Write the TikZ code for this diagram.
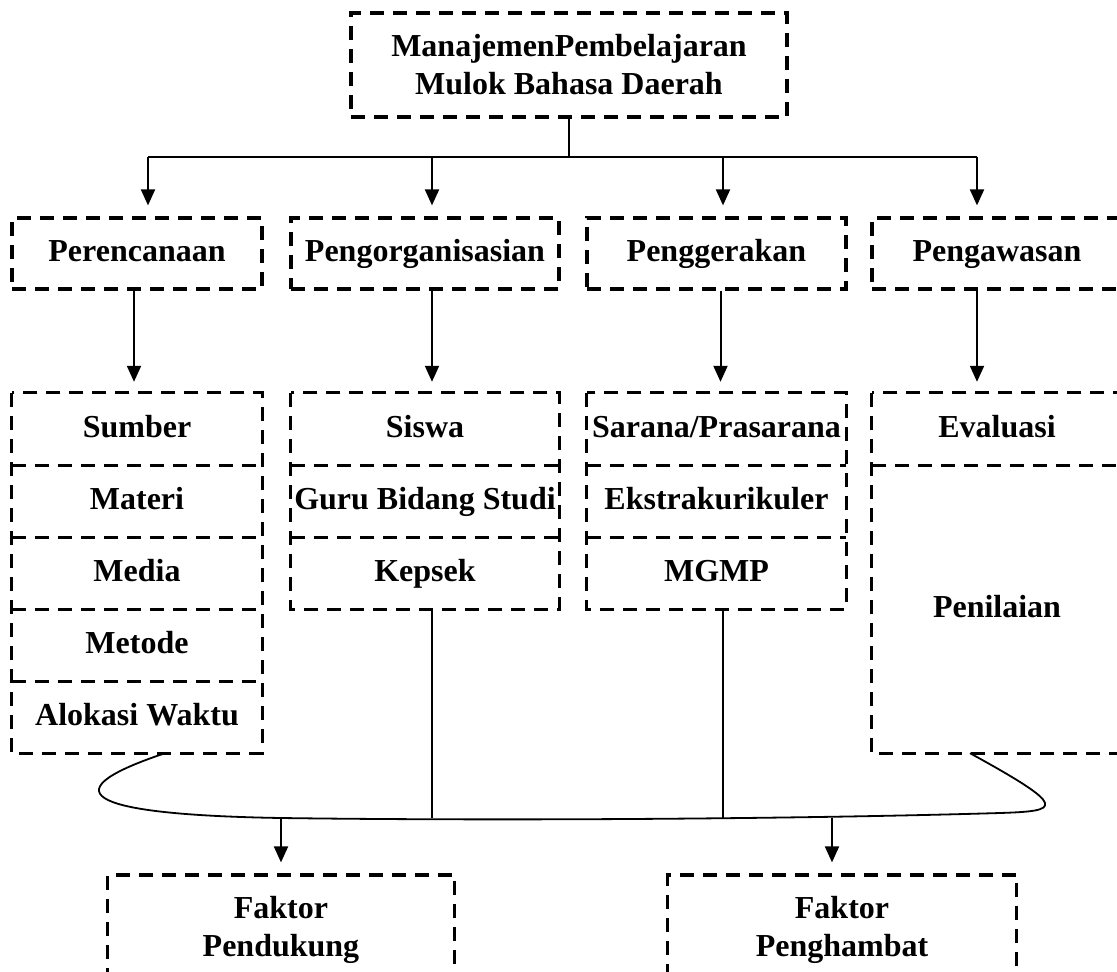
\documentclass[tikz,border=0pt]{standalone}
\usepackage{fontspec}
\setmainfont{Liberation Serif}
\usetikzlibrary{arrows.meta, positioning, calc}

\begin{document}
\begin{tikzpicture}[
		x=1pt, y=-1pt,
		every node/.style={font=\fontsize{32}{38}\selectfont\bfseries, align=center, inner sep=0pt},
		box/.style={draw, line width=3.2pt, dash pattern=on 14pt off 9pt},
		stage/.style={box, minimum height=71pt, text height=23pt, text depth=7pt},
		cell/.style={minimum height=72pt, text height=23pt, text depth=7pt},
		dashline/.style={line width=3.2pt, dash pattern=on 14pt off 9pt},
		link/.style={line width=2pt},
		>={Triangle[length=16pt, width=14pt]},
		arrow/.style={link, ->, shorten >=11pt}
		]
		
		\useasboundingbox (0,0) rectangle (1117,972);
		\clip (0,0) rectangle (1117,972);
		
		% --- Top Node ---
		\node[box, minimum width=436pt, minimum height=104pt] (manajemen) at (569,65) {ManajemenPembelajaran\\Mulok Bahasa Daerah};
		
		% --- Management Functions ---
		\node[stage, minimum width=250pt] (perencanaan) at (137,253.5) {Perencanaan};
		\node[stage, minimum width=268pt] (pengorganisasian) at (425,253.5) {Pengorganisasian};
		\node[stage, minimum width=259pt] (penggerakan) at (716.5,253.5) {Penggerakan};
		\node[stage, minimum width=250pt] (pengawasan) at (997,253.5) {Pengawasan};
		
		% --- Item Columns ---
		\node[cell, minimum width=250pt] (sumber) at (137,429) {Sumber};
		\node[cell, minimum width=250pt] (materi) at (137,501) {Materi};
		\node[cell, minimum width=250pt] (media) at (137,573) {Media};
		\node[cell, minimum width=250pt] (metode) at (137,645) {Metode};
		\node[cell, minimum width=250pt] (alokasi) at (137,717) {Alokasi Waktu};
		
		\node[cell, minimum width=268pt] (siswa) at (425,429) {Siswa};
		\node[cell, minimum width=268pt] (guru) at (425,501) {Guru Bidang Studi};
		\node[cell, minimum width=268pt] (kepsek) at (425,573) {Kepsek};
		
		\node[cell, minimum width=259pt] (sarana) at (716.5,429) {Sarana/Prasarana};
		\node[cell, minimum width=259pt] (ekstra) at (716.5,501) {Ekstrakurikuler};
		\node[cell, minimum width=259pt] (mgmp) at (716.5,573) {MGMP};
		
		\node[cell, minimum width=250pt] (evaluasi) at (997,429) {Evaluasi};
		\node[cell, minimum width=250pt, minimum height=288pt] (penilaian) at (997,609) {Penilaian};
		
		% dashed outlines and separators of the columns
		\draw[dashline] (sumber.north west) rectangle (alokasi.south east);
		\draw[dashline] (siswa.north west) rectangle (kepsek.south east);
		\draw[dashline] (sarana.north west) rectangle (mgmp.south east);
		\draw[dashline] (evaluasi.north west) rectangle (penilaian.south east);
		\foreach \cella in {sumber, materi, media, metode, siswa, guru, sarana, ekstra, evaluasi}
			\draw[dashline] (\cella.south west) -- (\cella.south east);
		
		% --- Factors ---
		\node[box, minimum width=347pt, minimum height=110pt] (pendukung) at (281,930) {Faktor\\Pendukung};
		\node[box, minimum width=349pt, minimum height=110pt] (penghambat) at (842,930) {Faktor\\Penghambat};
		
		% --- Top Distribution Bar ---
		\coordinate (barL) at (148,157);
		\coordinate (barR) at (977,157);
		\draw[link] (manajemen.south) -- (manajemen.south |- barL);
		\draw[link] (barL) -- (barR);
		\draw[arrow] (barL) -- (barL |- perencanaan.north);
		\draw[arrow] ([xshift=7pt]pengorganisasian.north |- barL) -- ([xshift=7pt]pengorganisasian.north);
		\draw[arrow] ([xshift=6.5pt]penggerakan.north |- barL) -- ([xshift=6.5pt]penggerakan.north);
		\draw[arrow] (barR) -- (barR |- pengawasan.north);
		
		% --- Functions to Items ---
		\draw[arrow] ([xshift=-3pt]perencanaan.south) -- ([xshift=-3pt]sumber.north);
		\draw[arrow] ([xshift=7pt]pengorganisasian.south) -- ([xshift=7pt]siswa.north);
		\draw[arrow] ([xshift=4pt]penggerakan.south) -- ([xshift=4pt]sarana.north);
		\draw[arrow] (barR |- pengawasan.south) -- (barR |- evaluasi.north);
		
		% --- Brace Collecting the Columns ---
		\coordinate (tapL) at (281,818);
		\coordinate (tapR) at (832,817.5);
		\draw[line width=1.8pt] ([xshift=28pt]alokasi.south) .. controls (40,795) and (100,815) .. (tapL)
			.. controls (500,821) and (800,819) .. (1000,813)
			.. controls (1060,811) and (1070,808) .. ([xshift=-27pt]penilaian.south);
		\draw[link] ([xshift=7pt]kepsek.south) -- ([xshift=7pt]kepsek.south |- tapL);
		\draw[link] ([xshift=6.5pt]mgmp.south) -- ([xshift=6.5pt]mgmp.south |- tapL);
		
		% --- Brace to Factors ---
		\draw[arrow] (tapL) -- (pendukung.north);
		\draw[arrow] (tapR) -- (tapR |- penghambat.north);
		
	\end{tikzpicture}
\end{document}
